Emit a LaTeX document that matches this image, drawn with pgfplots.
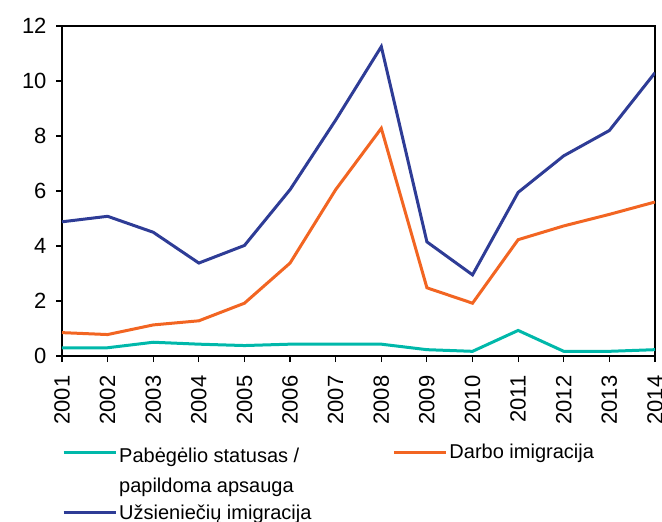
\documentclass[border=0pt]{standalone}
\usepackage{pgfplots}
\pgfplotsset{compat=1.18}
\usepackage{fontspec}
\setmainfont{Liberation Sans}
\definecolor{cteal}{RGB}{0,184,170}
\definecolor{corange}{RGB}{242,101,34}
\definecolor{cblue}{RGB}{46,60,150}
\begin{document}
\begin{tikzpicture}
\useasboundingbox (-62pt,-166pt) rectangle (600pt,356pt);
\begin{axis}[
  at={(0pt,0pt)}, anchor=south west,
  scale only axis, width=593pt, height=330pt,
  xmin=2001, xmax=2014, ymin=0, ymax=12,
  xtick={2001,...,2014}, ytick={0,2,...,12},
  /pgf/number format/1000 sep={},
  /pgf/number format/assume math mode=true,
  tick align=outside, tick pos=left,
  major tick length=6pt,
  every tick/.style={black, line width=1.2pt},
  axis line style={line width=1.3pt},
  ticklabel style={font=\fontsize{22}{26}\selectfont},
  yticklabel style={xshift=-6pt},
  xticklabel style={yshift=-10pt, rotate=90, anchor=east},
  legend columns=2,
  legend cell align=left,
  legend style={draw=none, fill=none, at={(axis description cs:0,0)}, anchor=north west,
    yshift=-83pt, inner sep=0pt, font=\fontsize{20}{30}\selectfont, row sep=37pt,
    /tikz/every even column/.append style={column sep=79pt}},
  legend image code/.code={\draw[#1, line width=3pt] (0pt,0pt) -- (52pt,0pt);},
]
\addplot[cteal, line width=3pt] coordinates {
(2001,0.30) (2002,0.30) (2003,0.50) (2004,0.43) (2005,0.38) (2006,0.43) (2007,0.43)
(2008,0.43) (2009,0.23) (2010,0.17) (2011,0.93) (2012,0.17) (2013,0.17) (2014,0.23)};
\addlegendentry{\begin{tabular}[t]{@{}l@{}}Pabėgėlio statusas /\\papildoma apsauga\end{tabular}}
\addplot[corange, line width=3pt] coordinates {
(2001,0.85) (2002,0.78) (2003,1.13) (2004,1.28) (2005,1.92) (2006,3.38) (2007,6.05)
(2008,8.28) (2009,2.48) (2010,1.92) (2011,4.23) (2012,4.73) (2013,5.15) (2014,5.6)};
\addlegendentry{Darbo imigracija}
\addplot[cblue, line width=3pt] coordinates {
(2001,4.88) (2002,5.08) (2003,4.5) (2004,3.38) (2005,4.02) (2006,6.05) (2007,8.58)
(2008,11.25) (2009,4.15) (2010,2.95) (2011,5.95) (2012,7.28) (2013,8.2) (2014,10.3)};
\addlegendentry{Užsieniečių imigracija}
\end{axis}
\end{tikzpicture}
\end{document}
